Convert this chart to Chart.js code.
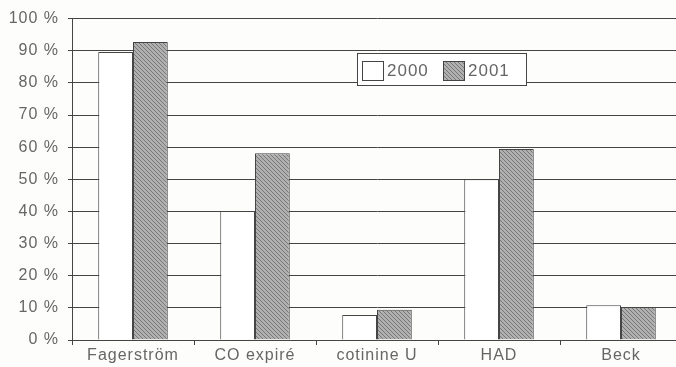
<!DOCTYPE html>
<html>
<head>
<meta charset="utf-8">
<script src="https://cdn.jsdelivr.net/npm/chart.js@4"></script>
<style>
  html, body { margin: 0; padding: 0; background: #fdfdfc; overflow: hidden; }
  #wrap { width: 682px; height: 367px; }
</style>
</head>
<body>
<div id="wrap"><canvas id="c" width="682" height="367"></canvas></div>
<script>
// Share of patients assessed with each test, 2000 vs 2001
const categories = ['Fagerström', 'CO expiré', 'cotinine U', 'HAD', 'Beck'];
const values2000 = [89.6, 40.1, 7.8, 50.0, 10.8];
const values2001 = [92.7, 58.1, 9.4, 59.4, 10.3];
const seriesNames = ['2000', '2001'];
const yTicks = [0, 10, 20, 30, 40, 50, 60, 70, 80, 90, 100];

const INK = '#454545';
const TEXT = '#666666';
const FONT = '"Liberation Sans", Arial, sans-serif';

// diagonal hatch fill for the second series
function hatch() {
  const p = document.createElement('canvas');
  p.width = 4; p.height = 4;
  const g = p.getContext('2d');
  g.fillStyle = '#b0b0b0';
  g.fillRect(0, 0, 4, 4);
  g.strokeStyle = '#777777';
  g.lineWidth = 1;
  g.beginPath();
  g.moveTo(-1, -1); g.lineTo(5, 5);
  g.moveTo(-1, 3); g.lineTo(1, 5);
  g.moveTo(3, -1); g.lineTo(5, 1);
  g.stroke();
  return g.createPattern(p, 'repeat');
}

const ctx = document.getElementById('c').getContext('2d');
const hatchFill = hatch();

// boxed legend drawn inside the plot area
const boxLegend = {
  id: 'boxLegend',
  beforeDraw(chart) { chart.ctx.letterSpacing = '1px'; },
  afterDraw(chart) {
    const c = chart.ctx;
    const x = 357, y = 53, w = 169, h = 32;
    c.save();
    c.fillStyle = '#ffffff';
    c.fillRect(x, y, w, h);
    c.strokeStyle = INK;
    c.lineWidth = 1;
    c.strokeRect(x + 0.5, y + 0.5, w, h);
    c.font = '17px ' + FONT;
    c.textBaseline = 'middle';
    const items = chart.data.datasets;
    const offs = [5, 86];
    items.forEach((ds, i) => {
      const sx = x + offs[i];
      c.fillStyle = ds.backgroundColor;
      c.fillRect(sx, y + 8, 21, 19);
      c.strokeStyle = INK;
      c.strokeRect(sx + 0.5, y + 8.5, 21, 19);
      c.fillStyle = TEXT;
      c.fillText(ds.label, sx + 25, y + 18);
    });
    c.restore();
  }
};

new Chart(ctx, {
  type: 'bar',
  data: {
    labels: categories,
    datasets: [
      { label: seriesNames[0], data: values2000, backgroundColor: '#ffffff', borderColor: INK, borderWidth: 1 },
      { label: seriesNames[1], data: values2001, backgroundColor: hatchFill, borderColor: INK, borderWidth: 1 }
    ]
  },
  options: {
    responsive: false,
    animation: false,
    layout: { padding: { top: 14, right: 0, left: 0, bottom: 0 } },
    datasets: { bar: { categoryPercentage: 0.57, barPercentage: 1.0 } },
    plugins: { legend: { display: false }, tooltip: { enabled: false } },
    scales: {
      x: {
        grid: { display: true, drawOnChartArea: false, drawTicks: true, tickLength: 5, color: INK, offset: true },
        border: { display: true, color: INK, width: 1 },
        ticks: { color: TEXT, font: { family: FONT, size: 16 }, padding: 1, maxRotation: 0 },
        afterFit(s) { s.height = 27; }
      },
      y: {
        min: 0, max: 100,
        afterBuildTicks(s) { s.ticks = yTicks.map(v => ({ value: v })); },
        grid: { color: INK, lineWidth: 1, drawTicks: true, tickLength: 4 },
        border: { display: true, color: INK, width: 1 },
        ticks: { color: TEXT, font: { family: FONT, size: 16 }, padding: 9, callback: v => v + ' %' },
        afterFit(s) { s.width = 72; }
      }
    }
  },
  plugins: [boxLegend]
});
</script>
</body>
</html>
